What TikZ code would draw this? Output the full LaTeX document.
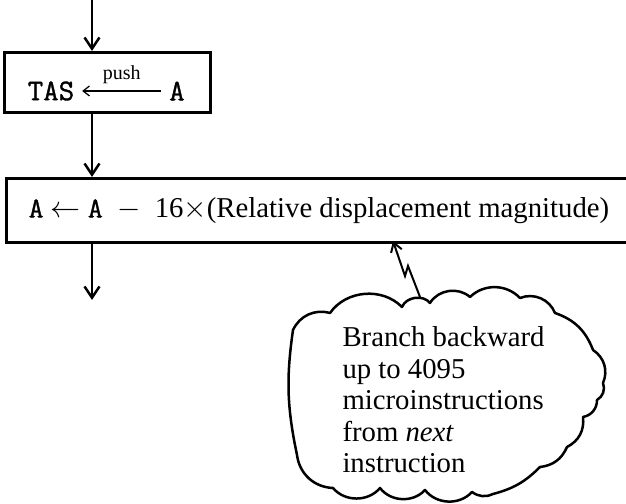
\documentclass[tikz,border=0pt]{standalone}
\usepackage{fontspec}
\setmainfont{Liberation Serif}
\newfontfamily\ttheavy[FakeBold=1.2]{Latin Modern Mono}
\usetikzlibrary{arrows.meta, positioning, fit}

\begin{document}
\begin{tikzpicture}[
    x=0.4pt, y=-0.4pt,
    every node/.style={font=\fontsize{11.5}{12.6}\selectfont},
    box/.style={draw, line width=1.2pt, inner sep=0pt},
    ttword/.style={font=\fontsize{12}{13}\selectfont\ttheavy, inner sep=3pt},
    flow/.style={draw, line width=1pt, -{Straight Barb[length=4.5pt, width=6pt]}},
    pushline/.style={draw, line width=0.5pt, -{Straight Barb[length=2.5pt, width=4pt]}},
    zig/.style={draw, line width=0.8pt, line join=miter, -{Straight Barb[length=3.5pt, width=4.5pt]}},
    cloudline/.style={draw, line width=1pt, line join=round}
]

    % Picture area
    \clip (0,0) rectangle (626,504);

    % Push step
    \node [box, minimum width=82pt, minimum height=24pt] (pushbox) at (107.5,82.5) {};
    \node [ttword] (tas) at (51,91) {TAS};
    \node [ttword] (acc) at (177,91) {A};
    \path [pushline] (acc) -- node [midway, above, font=\fontsize{8}{9}\selectfont, inner sep=2.5pt] {push} (tas);

    % Displacement step (open to the right)
    \node [box, minimum width=250pt, minimum height=25.6pt, anchor=north west] (dispbox) at (5,177)
        {{\ttheavy A}~$\leftarrow$~{\ttheavy A}~~$-$~~16$\times$(Relative displacement magnitude)};

    % Flow
    \coordinate (entry) at (92,0);
    \coordinate (exit) at (92,300);
    \path [flow] (entry) -- (entry |- pushbox.north);
    \path [flow] (entry |- pushbox.south) -- (entry |- dispbox.north);
    \path [flow] (exit |- dispbox.south) -- (exit);

    % Comment cloud
    \draw [cloudline] (330,313) to[bend left=50] (402,307) to[bend left=60] (430,303)
        to[bend left=50] (470,297) to[bend left=45] (520,298) to[bend left=45] (555,313)
        to[bend left=25] (593,350) to[bend left=40] (603,383) to[bend left=40] (597,400)
        to[bend left=40] (583,417) to[bend left=35] (567,447) to[bend left=30] (540,467)
        to[bend left=15] (493,494) to[bend left=30] (472,492) to[bend left=50] (425,490)
        to[bend left=50] (380,488) to[bend left=50] (333,488) to[bend left=40] (297,455)
        to[bend left=10] (293,330) to[bend left=40] cycle;
    \node [align=left, anchor=west, inner sep=0pt] (note) at (342,400)
        {Branch backward\\up to 4095\\microinstructions\\from \textit{next}\\instruction};

    % Zigzag pointer
    \coordinate (notch) at (420,297);
    \coordinate (hit) at (393,241);
    \path [zig] (notch) -- (408,266) -- (405,276) -- (hit);

\end{tikzpicture}
\end{document}
